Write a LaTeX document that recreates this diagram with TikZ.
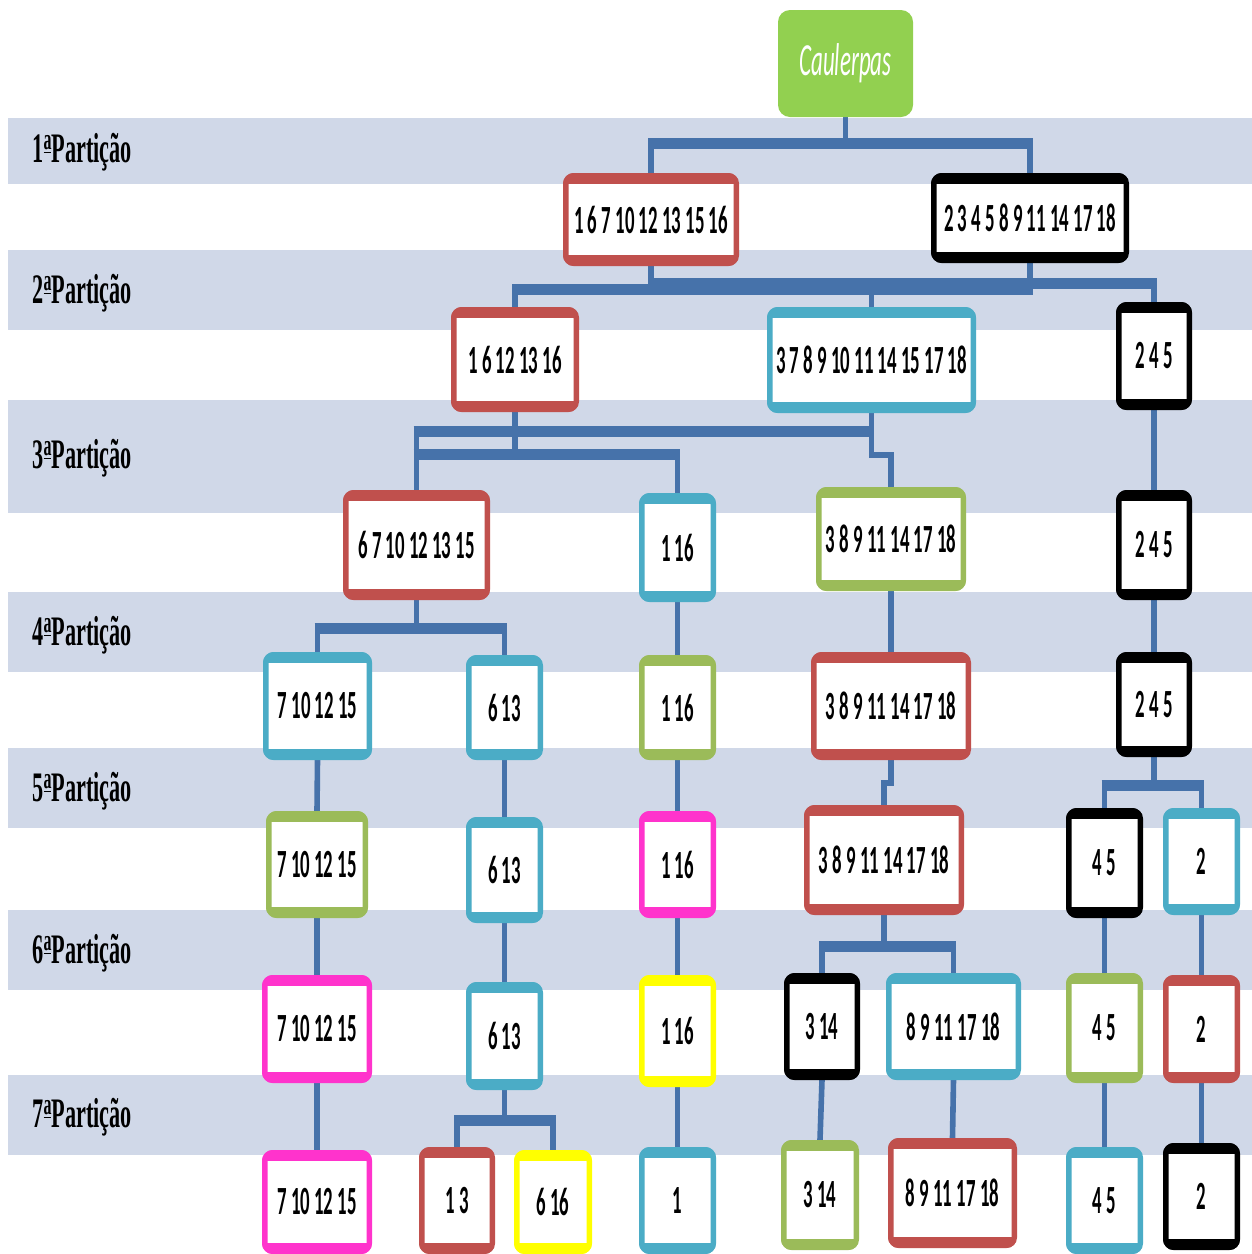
\documentclass[tikz,border=0pt]{standalone}
\usepackage{fontspec}
\newfontfamily\numfont[FakeStretch=0.47]{Carlito}
\newfontfamily\labfont[FakeStretch=0.53]{Liberation Serif}
\newfontfamily\rootfont[FakeStretch=0.5]{Carlito}

\definecolor{bandcol}{RGB}{208,216,232}
\definecolor{linkcol}{RGB}{70,114,170}
\definecolor{cred}{RGB}{192,80,77}
\definecolor{ccyan}{RGB}{75,172,198}
\definecolor{cgreen}{RGB}{155,187,89}
\definecolor{cmag}{RGB}{255,51,204}
\definecolor{cyel}{RGB}{255,255,0}
\definecolor{cblack}{RGB}{0,0,0}
\definecolor{rootgreen}{RGB}{146,208,80}

\pgfdeclarelayer{background}
\pgfdeclarelayer{edges}
\pgfsetlayers{background,edges,main}

% ordinal indicator: raised small a with a bar below
\newcommand\ordfem{\raisebox{0.3em}{\fontsize{15}{15}\selectfont\underline{a}}}

\tikzset{
  band/.style={fill=bandcol},
  partlabel/.style={anchor=base west, inner sep=0pt, text=black,
    font=\labfont\bfseries\fontsize{21}{24}\selectfont},
  groupbox/.style={draw=#1, fill=white, line width=2.75pt, rounded corners=4pt,
    inner sep=0pt, text=black, font=\numfont\bfseries\fontsize{20}{24}\selectfont},
  rootbox/.style={fill=rootgreen, rounded corners=6pt, inner sep=0pt,
    text=white, font=\rootfont\itshape\fontsize{23}{26}\selectfont},
  edge/.style={draw=linkcol, line width=2.8pt},
  forkbar/.style={draw=linkcol, line width=5.5pt, shorten <=-1.4pt, shorten >=-1.4pt},
}

% \grp{name}{left}{top}{right}{bottom}{colour}{members}, outer edges in pixel units;
% the frame is heavier along the top and bottom edges
\newcommand\grp[7]{%
  \node[groupbox=#6, minimum width={(#4-#2-5.5)*0.5pt},
        minimum height={(#5-#3-5.5)*0.5pt}] (#1) at ({(#2+#4)/2},{(#3+#5)/2}) {#7};
  \begin{scope}
    \clip[rounded corners=5.4pt] (#2,#3) rectangle (#4,#5);
    \fill[#6] (#2,#3) rectangle (#4,{#3+11});
    \fill[#6] (#2,{#5-11}) rectangle (#4,#5);
  \end{scope}}

\begin{document}
\begin{tikzpicture}[x=0.5pt, y=-0.5pt]
\useasboundingbox (0,0) rectangle (1252,1254);
\clip (0,0) rectangle (1252,1254);

% partition bands
\begin{pgfonlayer}{background}
  \fill[white] (0,0) rectangle (1252,1254);
  \foreach \ya/\yb in {118/184, 250/330, 400/513, 592/672, 748/828, 910/990, 1075/1155}
    \fill[band] (8,\ya) rectangle (1252,\yb);
\end{pgfonlayer}

% partition labels
\node[partlabel] (p1) at (32,162) {1\ordfem Partição};
\node[partlabel] (p2) at (32,303) {2\ordfem Partição};
\node[partlabel] (p3) at (32,468) {3\ordfem Partição};
\node[partlabel] (p4) at (32,645) {4\ordfem Partição};
\node[partlabel] (p5) at (32,801) {5\ordfem Partição};
\node[partlabel] (p6) at (32,963) {6\ordfem Partição};
\node[partlabel] (p7) at (32,1127) {7\ordfem Partição};

% root
\node[rootbox, minimum width=67.5pt, minimum height=53.5pt] (root) at (845.5,63.5) {Caulerpas};

% groups
\grp{A}{563}{173}{739}{266}{cred}{1 6 7 10 12 13 15 16}
\grp{B}{931}{173}{1129}{263}{cblack}{2 3 4 5 8 9 11 14 17 18}

\grp{C}{451}{307}{579}{412}{cred}{1 6 12 13 16}
\grp{D}{767}{307}{976}{413}{ccyan}{3 7 8 9 10 11 14 15 17 18}
\grp{E}{1116}{302}{1192}{410}{cblack}{2 4 5}

\grp{F}{343}{490}{490}{600}{cred}{6 7 10 12 13 15}
\grp{G}{639}{493}{716}{602}{ccyan}{1 16}
\grp{H}{816}{487}{966}{591}{cgreen}{3 8 9 11 14 17 18}
\grp{I}{1116}{490}{1192}{600}{cblack}{2 4 5}

\grp{J}{263}{652}{372}{760}{ccyan}{7 10 12 15}
\grp{K}{466}{655}{543}{760}{ccyan}{6 13}
\grp{L}{639}{655}{716}{760}{cgreen}{1 16}
\grp{M}{811}{652}{971}{760}{cred}{3 8 9 11 14 17 18}
\grp{N}{1116}{652}{1192}{757}{cblack}{2 4 5}

\grp{O}{266}{811}{368}{918}{cgreen}{7 10 12 15}
\grp{P}{466}{817}{543}{923}{ccyan}{6 13}
\grp{Q}{639}{811}{716}{918}{cmag}{1 16}
\grp{R}{804}{805}{964}{915}{cred}{3 8 9 11 14 17 18}
\grp{S}{1066}{808}{1143}{918}{cblack}{4 5}
\grp{T}{1163}{808}{1240}{915}{ccyan}{2}

\grp{U}{262}{975}{372}{1083}{cmag}{7 10 12 15}
\grp{V}{466}{982}{543}{1090}{ccyan}{6 13}
\grp{W}{639}{975}{716}{1087}{cyel}{1 16}
\grp{X}{784}{973}{860}{1080}{cblack}{3 14}
\grp{Y}{886}{973}{1021}{1080}{ccyan}{8 9 11 17 18}
\grp{Z}{1066}{973}{1143}{1083}{cgreen}{4 5}
\grp{AA}{1163}{975}{1240}{1083}{cred}{2}

\grp{AB}{262}{1150}{372}{1254}{cmag}{7 10 12 15}
\grp{AC}{419}{1147}{495}{1254}{cred}{1 3}
\grp{AD}{514}{1150}{592}{1254}{cyel}{6 16}
\grp{AE}{639}{1147}{716}{1254}{ccyan}{1}
\grp{AF}{781}{1140}{859}{1250}{cgreen}{3 14}
\grp{AG}{888}{1138}{1017}{1248}{cred}{8 9 11 17 18}
\grp{AH}{1066}{1147}{1143}{1254}{ccyan}{4 5}
\grp{AI}{1163}{1143}{1240}{1250}{cblack}{2}

% fork levels
\coordinate (f1) at (0,143);
\coordinate (f2a) at (0,289);
\coordinate (f2b) at (0,283);
\coordinate (f3a) at (0,431);
\coordinate (f3b) at (0,454);
\coordinate (f4) at (0,628);
\coordinate (f5) at (0,785);
\coordinate (f6) at (0,946);
\coordinate (f7) at (0,1120);

\begin{pgfonlayer}{edges}
  % 1st partition
  \draw[edge] (root.south) |- (f1 -| A.north) -- (A.north);
  \draw[edge] (root.south) |- (f1 -| B.north) -- (B.north);
  \draw[forkbar] (A.north |- f1) -- (B.north |- f1);
  % 2nd partition
  \draw[edge] (A.south) |- (f2a -| C.north) -- (C.north);
  \draw[edge] (A.south) |- (f2a -| D.north) -- (D.north);
  \draw[edge] (B.south) |- (f2b -| D.north) -- (D.north);
  \draw[edge] (B.south) |- (f2b -| E.north) -- (E.north);
  \draw[forkbar] (C.north |- f2a) -- (B.south |- f2a);
  \draw[forkbar] (A.south |- f2b) -- (E.north |- f2b);
  % 3rd partition
  \draw[edge] (C.south) |- (f3b -| F.north) -- (F.north);
  \draw[edge] (C.south) |- (f3b -| G.north) -- (G.north);
  \draw[edge] (D.south) |- (f3a -| F.north) -- (F.north);
  \draw[edge] (D.south) -- ++(0,42) -| (H.north);
  \draw[forkbar] (F.north |- f3a) -- (D.south |- f3a);
  \draw[forkbar] (F.north |- f3b) -- (G.north |- f3b);
  \draw[edge] (E.south) -- (I.north);
  % 4th partition
  \draw[edge] (F.south) |- (f4 -| J.north) -- (J.north);
  \draw[edge] (F.south) |- (f4 -| K.north) -- (K.north);
  \draw[forkbar] (J.north |- f4) -- (K.north |- f4);
  \draw[edge] (G.south) -- (L.north);
  \draw[edge] (H.south) -- (M.north);
  \draw[edge] (I.south) -- (N.north);
  % 5th partition
  \draw[edge] (J.south) -- (O.north);
  \draw[edge] (K.south) -- (P.north);
  \draw[edge] (L.south) -- (Q.north);
  \draw[edge] (M.south) -- ++(0,23) -| (R.north);
  \draw[edge] (N.south) |- (f5 -| S.north) -- (S.north);
  \draw[edge] (N.south) |- (f5 -| T.north) -- (T.north);
  \draw[forkbar] (S.north |- f5) -- (T.north |- f5);
  % 6th partition
  \draw[edge] (O.south) -- (U.north);
  \draw[edge] (P.south) -- (V.north);
  \draw[edge] (Q.south) -- (W.north);
  \draw[edge] (R.south) |- (f6 -| X.north) -- (X.north);
  \draw[edge] (R.south) |- (f6 -| Y.north) -- (Y.north);
  \draw[forkbar] (X.north |- f6) -- (Y.north |- f6);
  \draw[edge] (S.south) -- (Z.north);
  \draw[edge] (T.south) -- (AA.north);
  % 7th partition
  \draw[edge] (U.south) -- (AB.north);
  \draw[edge] (V.south) |- (f7 -| AC.north) -- (AC.north);
  \draw[edge] (V.south) |- (f7 -| AD.north) -- (AD.north);
  \draw[forkbar] (AC.north |- f7) -- (AD.north |- f7);
  \draw[edge] (W.south) -- (AE.north);
  \draw[edge] (X.south) -- (AF.north);
  \draw[edge] (Y.south) -- (AG.north);
  \draw[edge] (Z.south) -- (AH.north);
  \draw[edge] (AA.south) -- (AI.north);
\end{pgfonlayer}
\end{tikzpicture}
\end{document}
